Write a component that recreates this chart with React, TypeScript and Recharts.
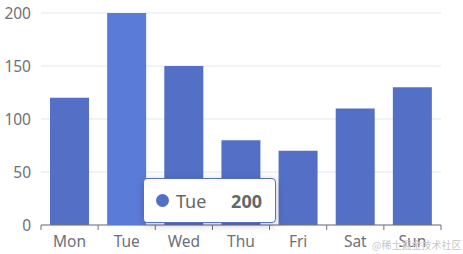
import React from 'react';
import { BarChart, Bar, XAxis, YAxis, CartesianGrid, Tooltip } from 'recharts';

const days = ['Mon', 'Tue', 'Wed', 'Thu', 'Fri', 'Sat', 'Sun'];
const values = [120, 200, 150, 80, 70, 110, 130];
const yTicks = [0, 50, 100, 150, 200];
const activeDay = 1;
const watermark = '@稀土掘金技术社区';

const data = days.map((d, i) => ({ day: d, value: values[i] }));

const W = 463;
const H = 254;
const LEFT = 41;
const RIGHT = 22;
const PLOT_W = W - LEFT - RIGHT;
const BAND = PLOT_W / days.length;
const FONT = '"Noto Sans", "Noto Sans CJK SC", sans-serif';
const AXIS_COLOR = '#6e7079';

const XTick = (props: any) => {
  const { x, y, payload, index } = props;
  const left = x - BAND / 2;
  return (
    <g>
      <line x1={left} x2={left} y1={y} y2={y + 5} stroke={AXIS_COLOR} strokeWidth={1} />
      {index === days.length - 1 && (
        <line x1={x + BAND / 2} x2={x + BAND / 2} y1={y} y2={y + 5} stroke={AXIS_COLOR} strokeWidth={1} />
      )}
      <text x={x} y={y + 22} textAnchor="middle" fill={AXIS_COLOR} fontSize={15.5} fontFamily={FONT}>
        {payload.value}
      </text>
    </g>
  );
};

const TipContent = (props: any) => {
  const { active, payload } = props;
  if (!active || !payload || !payload.length) return null;
  const p = payload[0];
  return (
    <div
      style={{
        boxSizing: 'border-box',
        width: 133,
        height: 45,
        background: '#fff',
        border: '1px solid #5470c6',
        borderRadius: 4,
        boxShadow: 'rgba(0,0,0,0.2) 1px 2px 10px',
        display: 'flex',
        alignItems: 'center',
        padding: '0 13px 0 12px',
        fontFamily: FONT,
        fontSize: 18,
        color: '#666',
      }}
    >
      <span style={{ width: 13, height: 13, borderRadius: '50%', background: '#5470c6', display: 'inline-block', marginRight: 7 }} />
      <span>{p.payload.day}</span>
      <span style={{ marginLeft: 'auto', fontWeight: 700 }}>{p.value}</span>
    </div>
  );
};

export default function App() {
  return (
    <div style={{ position: 'absolute', left: 0, top: 0, width: W, height: H, background: '#fff' }}>
      <BarChart width={W} height={H} data={data} margin={{ top: 13, right: RIGHT, left: 0, bottom: 0 }}>
        <CartesianGrid vertical={false} stroke="#e0e6f1" />
        <XAxis
          dataKey="day"
          height={29}
          axisLine={{ stroke: AXIS_COLOR }}
          tickLine={false}
          tickSize={0}
          tickMargin={0}
          tick={<XTick />}
          interval={0}
        />
        <YAxis
          width={LEFT}
          domain={[0, 200]}
          ticks={yTicks}
          axisLine={false}
          tickLine={false}
          tickSize={0}
          tickMargin={10}
          tick={{ fill: AXIS_COLOR, fontSize: 15.5, fontFamily: FONT }}
        />
        <Tooltip
          defaultIndex={activeDay}
          cursor={false}
          content={<TipContent />}
          position={{ x: 143, y: 178 }}
          isAnimationActive={false}
          wrapperStyle={{ outline: 'none' }}
        />
        <Bar
          dataKey="value"
          fill="#5470c6"
          barSize={39}
          isAnimationActive={false}
          activeBar={{ fill: '#5b7bd9' }}
        />
      </BarChart>
      <div
        style={{
          position: 'absolute',
          left: 372,
          top: 238,
          fontSize: 10,
          lineHeight: '14px',
          color: '#c8c8c8',
          fontFamily: '"Noto Sans CJK SC", sans-serif',
          whiteSpace: 'nowrap',
        }}
      >
        {watermark}
      </div>
    </div>
  );
}
